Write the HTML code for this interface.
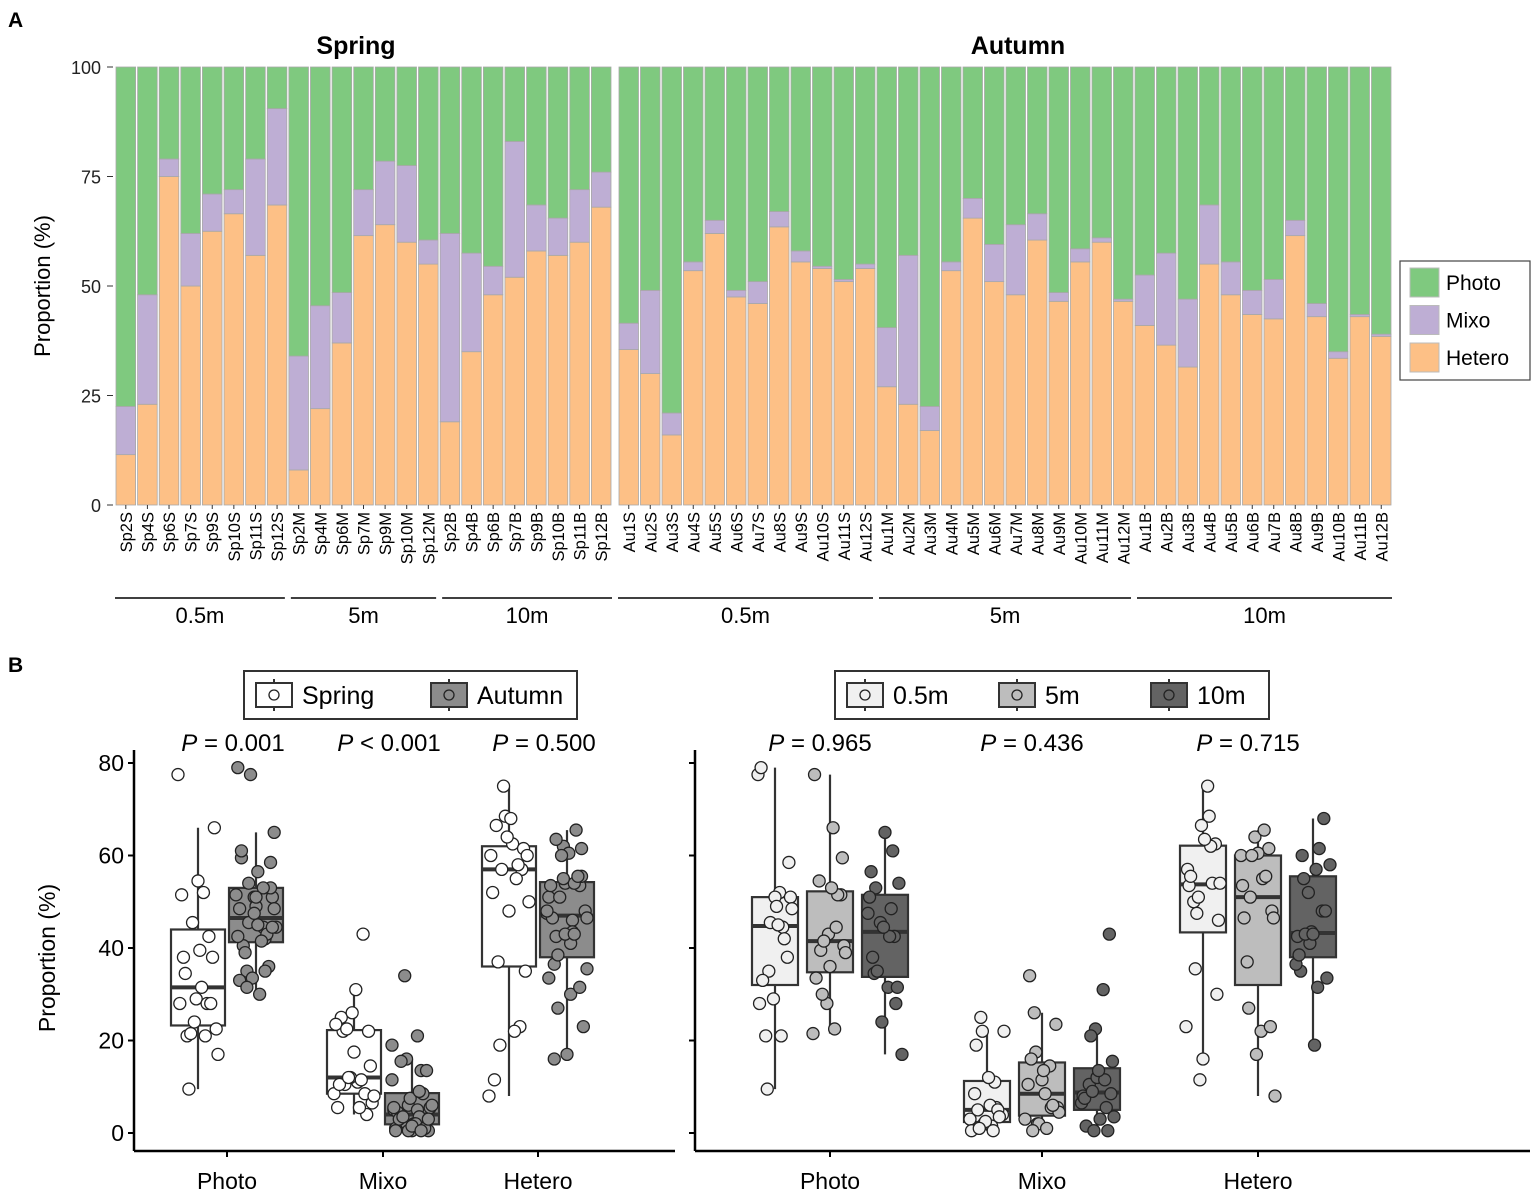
<!DOCTYPE html>
<html><head><meta charset="utf-8"><style>
body{margin:0;background:#fff;}
svg{display:block;font-family:"Liberation Sans",Arial,sans-serif;}
</style></head><body>
<svg id="chart" width="1535" height="1195" viewBox="0 0 1535 1195" xmlns="http://www.w3.org/2000/svg">
<text x="8" y="27" font-size="21" font-weight="bold">A</text>
<text x="8" y="672" font-size="21" font-weight="bold">B</text>
<g id="pa"></g>
<g id="pb"></g>
</svg>
<script>
const NS="http://www.w3.org/2000/svg";
function mk(parent,tag,attrs,text){const e=document.createElementNS(NS,tag);for(const k in attrs)e.setAttribute(k,attrs[k]);if(text!==undefined)e.textContent=text;parent.appendChild(e);return e;}

// ---- Panel A data ----
const springLabels=["Sp2S","Sp4S","Sp6S","Sp7S","Sp9S","Sp10S","Sp11S","Sp12S","Sp2M","Sp4M","Sp6M","Sp7M","Sp9M","Sp10M","Sp12M","Sp2B","Sp4B","Sp6B","Sp7B","Sp9B","Sp10B","Sp11B","Sp12B"];
const springDepth=["0.5m","0.5m","0.5m","0.5m","0.5m","0.5m","0.5m","0.5m","5m","5m","5m","5m","5m","5m","5m","10m","10m","10m","10m","10m","10m","10m","10m"];
const springHetero=[11.5,23,75,50,62.5,66.5,57,68.5,8,22,37,61.5,64,60,55,19,35,48,52,58,57,60,68];
const springMixo=[11,25,4,12,8.5,5.5,22,22,26,23.5,11.5,10.5,14.5,17.5,5.5,43,22.5,6.5,31,10.5,8.5,12,8];
const autumnLabels=["Au1S","Au2S","Au3S","Au4S","Au5S","Au6S","Au7S","Au8S","Au9S","Au10S","Au11S","Au12S","Au1M","Au2M","Au3M","Au4M","Au5M","Au6M","Au7M","Au8M","Au9M","Au10M","Au11M","Au12M","Au1B","Au2B","Au3B","Au4B","Au5B","Au6B","Au7B","Au8B","Au9B","Au10B","Au11B","Au12B"];
const autumnDepth=["0.5m","0.5m","0.5m","0.5m","0.5m","0.5m","0.5m","0.5m","0.5m","0.5m","0.5m","0.5m","5m","5m","5m","5m","5m","5m","5m","5m","5m","5m","5m","5m","10m","10m","10m","10m","10m","10m","10m","10m","10m","10m","10m","10m"];
const autumnHetero=[35.5,30,16,53.5,62,47.5,46,63.5,55.5,54,51,54,27,23,17,53.5,65.5,51,48,60.5,46.5,55.5,60,46.5,41,36.5,31.5,55,48,43.5,42.5,61.5,43,33.5,43,38.5];
const autumnMixo=[6,19,5,2,3,1.5,5,3.5,2.5,0.5,0.5,1,13.5,34,5.5,2,4.5,8.5,16,6,2,3,1,0.5,11.5,21,15.5,13.5,7.5,5.5,9,3.5,3,1.5,0.5,0.5];
const yTicksA=[0,25,50,75,100];
const depthGroups=["0.5m","5m","10m"];
const colPhoto="#7fc97f",colMixo="#beaed4",colHetero="#fdc086";

const pa=document.getElementById('pa');
const yTopA=67,yBotA=505;
function yA(v){return yBotA-(v/100)*(yBotA-yTopA);}
function drawFacet(x0,x1,labels,hetero,mixo,depth,title,facetName,titleX){
  const g=mk(pa,'g',{});
  
  
  const n=labels.length,bw=(x1-x0)/n;
  for(let i=0;i<n;i++){
    const bx=x0+i*bw+1,w=bw-2;
    const h=hetero[i],m=mixo[i];
    const segs=[[0,h,colHetero,'hetero'],[h,h+m,colMixo,'mixo'],[h+m,100,colPhoto,'photo']];
    segs.forEach(s=>{
      const r=mk(g,'rect',{x:bx,y:yA(s[1]),width:w,height:yA(s[0])-yA(s[1]),fill:s[2],stroke:'#a8a8a8','stroke-width':0.8});
      
      
    });
    const cx=x0+(i+0.5)*bw+6;
    const t=mk(g,'text',{x:cx,y:512,'font-size':16.5,'text-anchor':'end',transform:`rotate(-90 ${cx} 512)`},labels[i]);
    
    
    mk(g,'line',{x1:x0+(i+0.5)*bw,x2:x0+(i+0.5)*bw,y1:505,y2:509,stroke:'#333','stroke-width':1});
  }
  const tt=mk(g,'text',{x:titleX,y:54,'font-size':25,'font-weight':'bold','text-anchor':'middle'},title);
  
  
  depthGroups.forEach(d=>{
    let first=-1,last=-1;depth.forEach((v,i)=>{if(v===d){if(first<0)first=i;last=i;}});
    const gx0=x0+first*bw+(first>0?3:0),gx1=x0+(last+1)*bw-(last<n-1?3:0);
    mk(g,'line',{x1:gx0,x2:gx1,y1:598,y2:598,stroke:'#000','stroke-width':1.5});
    const lt=mk(g,'text',{x:(gx0+gx1)/2,y:623,'font-size':22,'text-anchor':'middle'},d);
    
    
  });
}
drawFacet(115,612,springLabels,springHetero,springMixo,springDepth,'Spring','spring-facet',356);
drawFacet(618,1392,autumnLabels,autumnHetero,autumnMixo,autumnDepth,'Autumn','autumn-facet',1018);
yTicksA.forEach(v=>{
  const t=mk(pa,'text',{x:101,y:yA(v)+7,'font-size':18,'text-anchor':'end',fill:'#222'},v);
  
  
  mk(pa,'line',{x1:107,x2:113,y1:yA(v),y2:yA(v),stroke:'#333','stroke-width':1});
});
const yta=mk(pa,'text',{x:50,y:286,'font-size':22,'text-anchor':'middle',transform:'rotate(-90 50 286)'},'Proportion (%)');


// legend A
const lg=mk(pa,'g',{});


mk(lg,'rect',{x:1400,y:261,width:130,height:119,fill:'#fff',stroke:'#444','stroke-width':1.2});
[['Photo',colPhoto],['Mixo',colMixo],['Hetero',colHetero]].forEach((e,i)=>{
  const y=268+i*37.5;
  const r=mk(lg,'rect',{x:1410,y:y,width:29,height:29,fill:e[1],stroke:'#bbb'});
  
  
  const t=mk(lg,'text',{x:1446,y:y+22,'font-size':21},e[0]);
  
  
});

// ---- Panel B ----
const categoriesB=["Photo","Mixo","Hetero"];
const seasonNames=["Spring","Autumn"];
const pValuesSeason=["= 0.001","< 0.001","= 0.500"];
const pValuesDepth=["= 0.965","= 0.436","= 0.715"];
const yTicksB=[0,20,40,60,80];
const seasonFill=["#ffffff","#8c8c8c"];
const depthFill=["#f0f0f0","#bdbdbd","#636363"];

const pb=document.getElementById('pb');
const y0B=1133,y80B=763;
function yB(v){return y0B-(v/80)*(y0B-y80B);}
function valsOf(het,mix,cat){return het.map((h,i)=>cat==="Photo"?100-h-mix[i]:cat==="Mixo"?mix[i]:h);}
function quant(a,p){const s=[...a].sort((x,y)=>x-y);const k=(s.length-1)*p,f=Math.floor(k),c=Math.ceil(k);return s[f]+(s[c]-s[f])*(k-f);}
function jit(i,s){return (((i*37+s*13)%23)/22-0.5);}
function drawBox(g,vals,cx,w,fill,name,seed,jw){
  const q1=quant(vals,.25),q2=quant(vals,.5),q3=quant(vals,.75),iqr=q3-q1;
  const inside=vals.filter(v=>v>=q1-1.5*iqr&&v<=q3+1.5*iqr);
  const lo=Math.min(...inside),hi=Math.max(...inside);
  const bg=mk(g,'g',{});
  
  
  mk(bg,'line',{x1:cx,x2:cx,y1:yB(hi),y2:yB(lo),stroke:'#333','stroke-width':2.2});
  mk(bg,'rect',{x:cx-w/2,y:yB(q3),width:w,height:yB(q1)-yB(q3),fill:fill,stroke:'#333','stroke-width':2.2});
  mk(bg,'line',{x1:cx-w/2,x2:cx+w/2,y1:yB(q2),y2:yB(q2),stroke:'#333','stroke-width':4});
  vals.forEach((v,i)=>{
    const c=mk(bg,'circle',{cx:cx+jit(i,seed)*jw,cy:yB(v),r:6,fill:fill,stroke:'#222','stroke-width':1.3});
    
    
  });
}
function axesB(x0,x1,ticks,labels,name,showLabels){
  const g=mk(pb,'g',{});
  
  
  mk(g,'line',{x1:x0,x2:x0,y1:750,y2:1151,stroke:'#000','stroke-width':2.5});
  mk(g,'line',{x1:x0,x2:x1,y1:1151,y2:1151,stroke:'#000','stroke-width':2.5});
  yTicksB.forEach(v=>{
    mk(g,'line',{x1:x0-6,x2:x0,y1:yB(v),y2:yB(v),stroke:'#000','stroke-width':2});
    if(showLabels){const t=mk(g,'text',{x:x0-10,y:yB(v)+8,'font-size':23,'text-anchor':'end'},v);
      
      }
  });
  ticks.forEach((tx,i)=>{
    mk(g,'line',{x1:tx,x2:tx,y1:1151,y2:1157,stroke:'#000','stroke-width':2});
    const t=mk(g,'text',{x:tx,y:1189,'font-size':23,'text-anchor':'middle'},labels[i]);
    
    
  });
  return g;
}
const leftTicks=[227,383,538],rightTicks=[830,1042,1258];
const gl=axesB(134,675,leftTicks,categoriesB,'season-boxplot',true);
const gr=axesB(695,1530,rightTicks,categoriesB,'depth-boxplot',false);
const ytb=mk(pb,'text',{x:55,y:958,'font-size':23,'text-anchor':'middle',transform:'rotate(-90 55 958)'},'Proportion (%)');



categoriesB.forEach((cat,ci)=>{
  const sp=valsOf(springHetero,springMixo,cat),au=valsOf(autumnHetero,autumnMixo,cat);
  drawBox(gl,sp,leftTicks[ci]-29,54,seasonFill[0],'spring-'+cat.toLowerCase(),ci,40);
  drawBox(gl,au,leftTicks[ci]+29,54,seasonFill[1],'autumn-'+cat.toLowerCase(),ci+5,40);
  const allH=springHetero.concat(autumnHetero),allM=springMixo.concat(autumnMixo),allD=springDepth.concat(autumnDepth);
  const allV=valsOf(allH,allM,cat);
  depthGroups.forEach((d,di)=>{
    const v=allV.filter((x,i)=>allD[i]===d);
    drawBox(gr,v,rightTicks[ci]+(di-1)*55,46,depthFill[di],'depth-'+d+'-'+cat.toLowerCase(),di+ci*3,34);
  });
  [[pValuesSeason,leftTicks],[pValuesDepth,rightTicks]].forEach((pv,k)=>{
    const t=mk(pb,'text',{x:pv[1][ci]+(k===0?6:-10),y:751,'font-size':24,'text-anchor':'middle'});
    
    
    mk(t,'tspan',{'font-style':'italic'},'P');
    mk(t,'tspan',{},' '+pv[0][ci]);
  });
});
// legends B
function legendB(x,y,w,entries,fills,name,gap){
  const g=mk(pb,'g',{});
  
  
  mk(g,'rect',{x:x,y:y,width:w,height:48,fill:'#fff',stroke:'#333','stroke-width':2});
  entries.forEach((e,i)=>{
    const ex=x+12+i*gap;
    mk(g,'line',{x1:ex+18,x2:ex+18,y1:y+8,y2:y+40,stroke:'#333','stroke-width':2});
    mk(g,'rect',{x:ex,y:y+12,width:36,height:24,fill:fills[i],stroke:'#333','stroke-width':2});
    mk(g,'circle',{cx:ex+18,cy:y+24,r:5,fill:fills[i],stroke:'#222','stroke-width':1.3});
    const t=mk(g,'text',{x:ex+46,y:y+33,'font-size':25},e);
    
    
  });
}
legendB(244,671,333,seasonNames,seasonFill,'legend-season',175);
legendB(835,671,434,depthGroups,depthFill,'legend-depth',152);
</script>
</body></html>
